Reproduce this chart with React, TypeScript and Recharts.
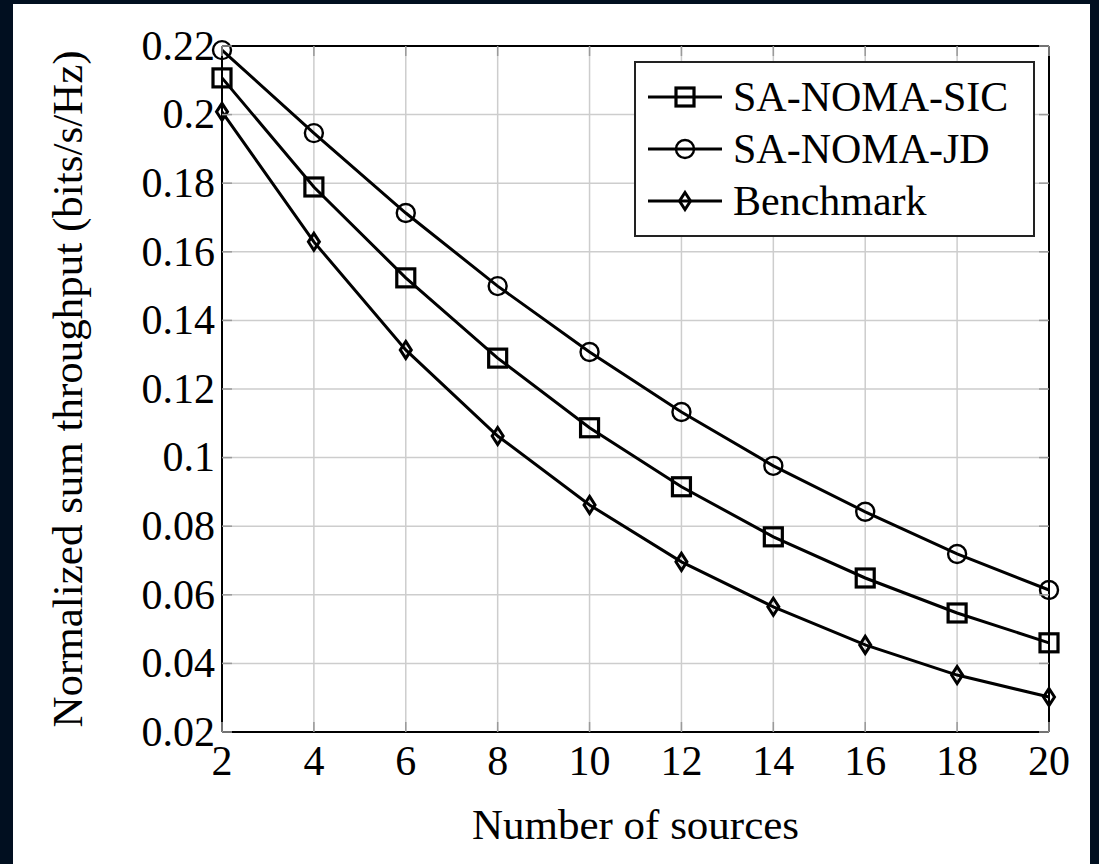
import React from "react";
import { LineChart, Line, XAxis, YAxis, CartesianGrid, ReferenceLine, Label } from "recharts";

// Number of sources (x axis)
const sources = [2, 4, 6, 8, 10, 12, 14, 16, 18, 20];

// Normalized sum throughput (bits/s/Hz)
const sicValues = [0.2107, 0.1789, 0.1524, 0.129, 0.1087, 0.0915, 0.0769, 0.0649, 0.0547, 0.046];
const jdValues = [0.2188, 0.1946, 0.1713, 0.150, 0.1308, 0.1133, 0.0976, 0.0842, 0.0719, 0.0614];
const benchmarkValues = [0.2008, 0.1629, 0.1314, 0.1063, 0.0862, 0.0696, 0.0565, 0.0454, 0.0366, 0.0302];

const yTicks = [0.02, 0.04, 0.06, 0.08, 0.1, 0.12, 0.14, 0.16, 0.18, 0.2, 0.22];

const seriesNames = ["SA-NOMA-SIC", "SA-NOMA-JD", "Benchmark"];

const data = sources.map((s, i) => ({
  sources: s,
  sic: sicValues[i],
  jd: jdValues[i],
  bench: benchmarkValues[i],
}));

// layout
const CHART_W = 1077;
const CHART_H = 860;
const Y_AXIS_W = 120;
const X_AXIS_H = 100;
const MARGIN = { top: 42, right: 41, bottom: 32, left: 89 };
const PLOT_LEFT = MARGIN.left + Y_AXIS_W;
const PLOT_RIGHT = CHART_W - MARGIN.right;
const PLOT_TOP = MARGIN.top;
const PLOT_BOTTOM = CHART_H - MARGIN.bottom - X_AXIS_H;

const FONT = "'Liberation Serif', 'Times New Roman', serif";
const TICK_COLOR = "#9a9a9a";
const TICK_LEN = 10;

const fmtY = (v: number) => String(Number(v.toFixed(2)));

// marks
const SquareMark = ({ cx, cy }: { cx: number; cy: number }) => (
  <rect x={cx - 9} y={cy - 9} width={18} height={18} fill="none" stroke="#000" strokeWidth={3.2} />
);
const CircleMark = ({ cx, cy }: { cx: number; cy: number }) => (
  <circle cx={cx} cy={cy} r={9} fill="none" stroke="#000" strokeWidth={2.4} />
);
const DiamondMark = ({ cx, cy }: { cx: number; cy: number }) => (
  <polygon
    points={`${cx},${cy - 8.5} ${cx + 5.5},${cy} ${cx},${cy + 8.5} ${cx - 5.5},${cy}`}
    fill="none"
    stroke="#000"
    strokeWidth={3}
  />
);

const markers = [SquareMark, CircleMark, DiamondMark];
const keys = ["sic", "jd", "bench"];

const YTick = (props: any) => {
  const { x, y, payload } = props;
  return (
    <g>
      <line x1={PLOT_LEFT} x2={PLOT_LEFT + TICK_LEN} y1={y} y2={y} stroke={TICK_COLOR} strokeWidth={1.5} />
      <line x1={PLOT_RIGHT - TICK_LEN} x2={PLOT_RIGHT} y1={y} y2={y} stroke={TICK_COLOR} strokeWidth={1.5} />
      <text x={x} y={y} dy="0.33em" textAnchor="end" fontFamily={FONT} fontSize={42} fill="#000">
        {fmtY(payload.value)}
      </text>
    </g>
  );
};

const XTick = (props: any) => {
  const { x, y, payload } = props;
  return (
    <g>
      <line x1={x} x2={x} y1={PLOT_BOTTOM} y2={PLOT_BOTTOM - TICK_LEN} stroke={TICK_COLOR} strokeWidth={1.5} />
      <line x1={x} x2={x} y1={PLOT_TOP} y2={PLOT_TOP + TICK_LEN} stroke={TICK_COLOR} strokeWidth={1.5} />
      <text x={x} y={y + 43} textAnchor="middle" fontFamily={FONT} fontSize={42} fill="#000">
        {payload.value}
      </text>
    </g>
  );
};

const LegendBox = () => (
  <div
    style={{
      position: "absolute",
      left: 621,
      top: 57,
      width: 401,
      height: 176,
      boxSizing: "border-box",
      border: "2px solid #222",
      background: "#fff",
      paddingTop: 8,
      paddingLeft: 12,
      fontFamily: FONT,
      fontSize: 42,
      color: "#000",
    }}
  >
    {seriesNames.map((name, i) => {
      const Mark = markers[i];
      return (
        <div key={name} style={{ display: "flex", alignItems: "center", height: 52 }}>
          <svg width={74} height={30} style={{ display: "block" }}>
            <line x1={0} x2={74} y1={15} y2={15} stroke="#000" strokeWidth={3.2} />
            <Mark cx={37} cy={15} />
          </svg>
          <span style={{ marginLeft: 11, lineHeight: "52px" }}>{name}</span>
        </div>
      );
    })}
  </div>
);

export default function App() {
  return (
    <div style={{ position: "fixed", inset: 0, background: "#010f20" }}>
      <div
        style={{
          position: "absolute",
          left: 13,
          top: 4,
          width: CHART_W,
          height: CHART_H,
          background: "#fff",
        }}
      >
        <LineChart width={CHART_W} height={CHART_H} data={data} margin={MARGIN}>
          <CartesianGrid stroke="#cdcdcd" strokeWidth={1.5} />
          <XAxis
            type="number"
            dataKey="sources"
            domain={[2, 20]}
            ticks={sources}
            height={X_AXIS_H}
            tickSize={0}
            tickMargin={0}
            tickLine={false}
            axisLine={{ stroke: "#000", strokeWidth: 2 }}
            tick={<XTick />}
            interval={0}
          >
            <Label
              content={() => (
                <text x={(PLOT_LEFT + PLOT_RIGHT) / 2} y={835} textAnchor="middle" fontFamily={FONT} fontSize={43} fill="#000">
                  Number of sources
                </text>
              )}
            />
          </XAxis>
          <YAxis
            type="number"
            domain={[0.02, 0.22]}
            ticks={yTicks}
            width={Y_AXIS_W}
            tickSize={0}
            tickMargin={7}
            tickLine={false}
            axisLine={{ stroke: "#000", strokeWidth: 2 }}
            tick={<YTick />}
            interval={0}
          >
            <Label
              content={() => (
                <text
                  x={69}
                  y={(PLOT_TOP + PLOT_BOTTOM) / 2}
                  textAnchor="middle"
                  fontFamily={FONT}
                  fontSize={43}
                  fill="#000"
                  transform={`rotate(-90 69 ${(PLOT_TOP + PLOT_BOTTOM) / 2})`}
                >
                  Normalized sum throughput (bits/s/Hz)
                </text>
              )}
            />
          </YAxis>
          <ReferenceLine y={0.22} stroke="#000" strokeWidth={2} />
          <ReferenceLine x={20} stroke="#000" strokeWidth={2} />
          {keys.map((k, i) => {
            const Mark = markers[i];
            return (
              <Line
                key={k}
                type="linear"
                dataKey={k}
                name={seriesNames[i]}
                stroke="#000"
                strokeWidth={3}
                isAnimationActive={false}
                dot={(p: any) => <Mark key={`${k}-${p.index}`} cx={p.cx} cy={p.cy} />}
                activeDot={false}
              />
            );
          })}
        </LineChart>
        <LegendBox />
      </div>
    </div>
  );
}
